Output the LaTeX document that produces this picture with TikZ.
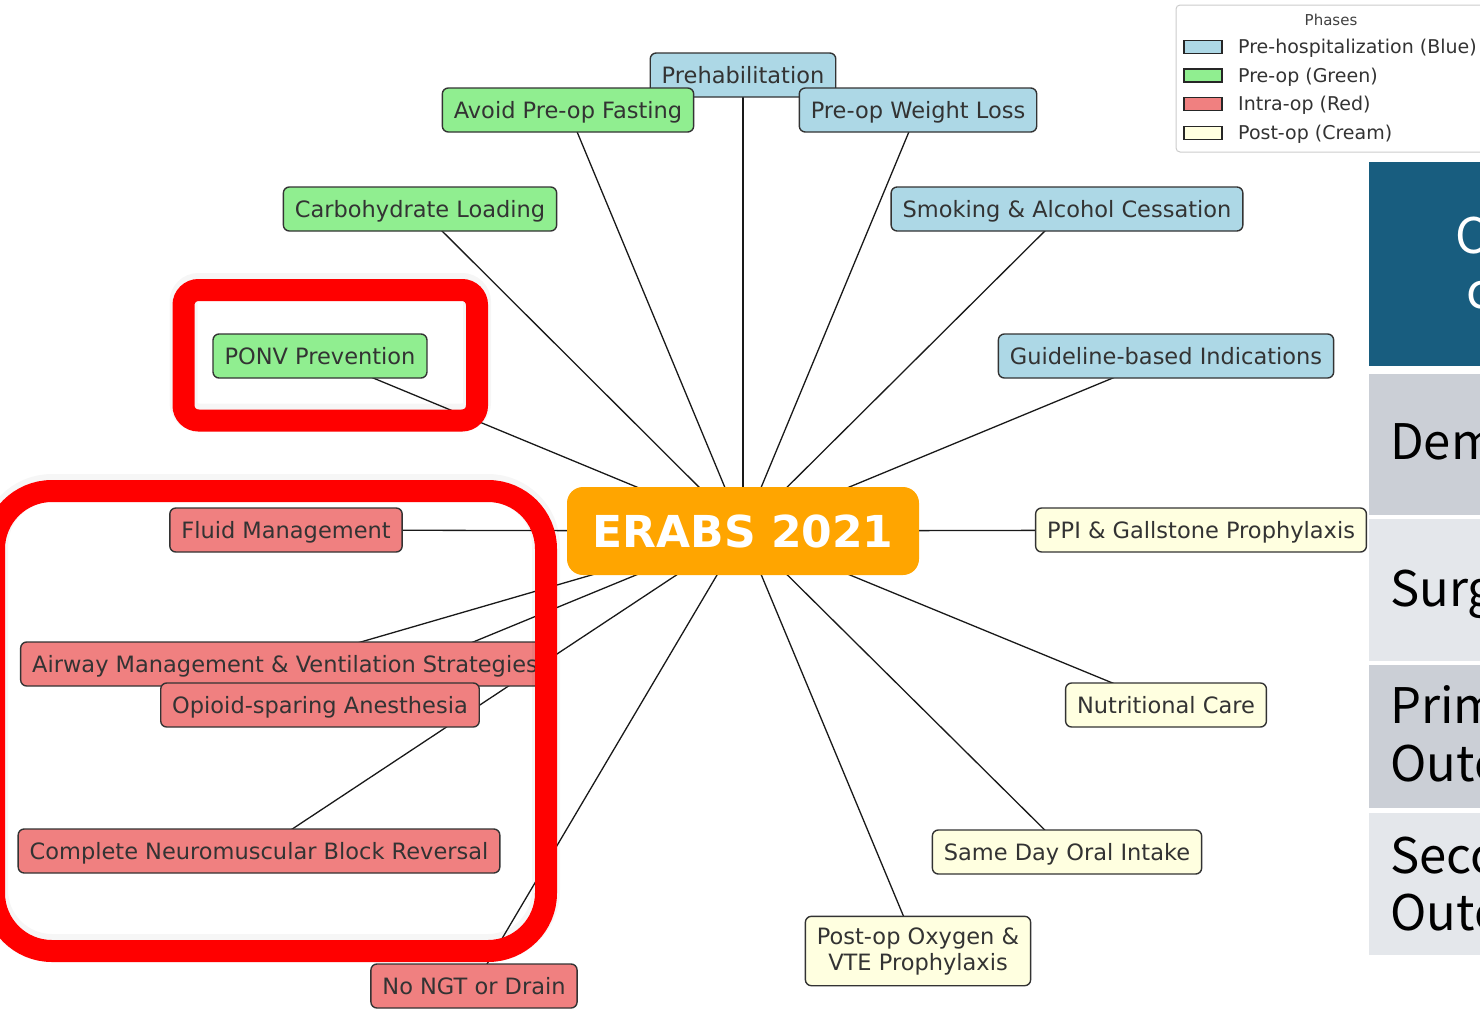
\documentclass[tikz,border=0pt]{standalone}
\usepackage{fontspec}
\setmainfont{DejaVu Sans}
\newfontfamily\tblfont{Noto Sans CJK JP}
\usetikzlibrary{backgrounds}
\definecolor{phblue}{HTML}{ADD8E6}
\definecolor{phgreen}{HTML}{90EE90}
\definecolor{phred}{HTML}{F08080}
\definecolor{phcream}{HTML}{FFFFE0}
\definecolor{hub}{HTML}{FFA500}
\definecolor{hilite}{HTML}{FF0000}
\definecolor{tblhead}{HTML}{185D7F}
\definecolor{tbldark}{HTML}{CBCFD6}
\definecolor{tbllight}{HTML}{E4E7EB}
\definecolor{nodetext}{HTML}{333333}
\tikzset{
  itembase/.style={draw=black!80, line width=1.4pt, rounded corners=6pt,
    inner xsep=11.5pt, inner ysep=11pt,
    text=nodetext, font=\fontsize{22.5}{26}\selectfont, align=center},
  item/.style={itembase, text height=19pt, text depth=3pt},
  hubnode/.style={fill=hub, rounded corners=16pt, minimum width=352pt,
    minimum height=88pt, text=white, font=\bfseries\fontsize{44}{50}\selectfont},
  edge/.style={draw=black!90, line width=1.3pt},
  hlbox/.style={draw=hilite, line width=22pt},
  hlshadow/.style={draw=black, opacity=0.035, line width=28pt},
  patch/.style={draw=black!85, line width=1.3pt},
  lgtext/.style={anchor=west, inner sep=0pt, text=nodetext, font=\fontsize{19}{22}\selectfont},
  tbltext/.style={anchor=base west, inner sep=0pt, text=black, font=\tblfont\fontsize{49}{58}\selectfont},
}
\begin{document}
\begin{tikzpicture}[x=1pt,y=-1pt]
\useasboundingbox (0,0) rectangle (1480,1009);

% hub
\node[hubnode] (c) at (743,531) {ERABS 2021};

% phase nodes
\node[item, fill=phblue] (prehab) at (743,75) {Prehabilitation};
\node[item, fill=phgreen] (fasting) at (568,110) {Avoid Pre-op Fasting};
\node[item, fill=phblue] (wloss) at (918,110) {Pre-op Weight Loss};
\node[item, fill=phgreen] (carb) at (420,209) {Carbohydrate Loading};
\node[item, fill=phblue] (smoke) at (1067,209) {Smoking \& Alcohol Cessation};
\node[item, fill=phgreen] (ponv) at (320,356) {PONV Prevention};
\node[item, fill=phblue] (guide) at (1166,356) {Guideline-based Indications};
\node[item, fill=phred] (fluid) at (286,530) {Fluid Management};
\node[item, fill=phcream] (ppi) at (1201,530) {PPI \& Gallstone Prophylaxis};
\node[item, fill=phred] (airway) at (285,664) {Airway Management \& Ventilation Strategies};
\node[item, fill=phred] (opioid) at (320,705) {Opioid-sparing Anesthesia};
\node[item, fill=phcream] (nutri) at (1166,705) {Nutritional Care};
\node[item, fill=phred] (nmb) at (259,851) {Complete Neuromuscular Block Reversal};
\node[item, fill=phcream] (sameday) at (1067,852) {Same Day Oral Intake};
\node[itembase, fill=phcream] (postop) at (918,951) {Post-op Oxygen \&\\VTE Prophylaxis};
\node[item, fill=phred] (nongt) at (474,986) {No NGT or Drain};

% connectors behind the nodes
\begin{pgfonlayer}{background}
\foreach \n in {prehab,fasting,wloss,carb,smoke,ponv,guide,fluid,ppi,airway,opioid,nutri,nmb,sameday,postop,nongt}
  \draw[edge] (c.center) -- (\n.center);
\end{pgfonlayer}

% highlight boxes
\draw[hlshadow, rounded corners=58pt] ([yshift=3pt]-6,491) rectangle ([yshift=3pt]546,951);
\draw[hlbox, rounded corners=58pt] (-6,491) rectangle (546,951);
\draw[hlshadow, rounded corners=15pt] ([yshift=3pt]183.5,290) rectangle ([yshift=3pt]477,420.5);
\draw[hlbox, rounded corners=15pt] (183.5,290) rectangle (477,420.5);

% legend
\draw[draw=black!20, fill=white, rounded corners=4pt, line width=1pt] (1176,5) rectangle (1530,152);
\node[inner sep=0pt, text=black!75, font=\fontsize{15}{18}\selectfont] (lgtitle) at (1331,20) {Phases};
\draw[patch, fill=phblue] (1184,40.5) rectangle (1222,53.5);
\node[lgtext] (lg1) at (1238,48.5) {Pre-hospitalization (Blue)};
\draw[patch, fill=phgreen] (1184,69) rectangle (1222,82);
\node[lgtext] (lg2) at (1238,77) {Pre-op (Green)};
\draw[patch, fill=phred] (1184,97.5) rectangle (1222,110.5);
\node[lgtext] (lg3) at (1238,105.5) {Intra-op (Red)};
\draw[patch, fill=phcream] (1184,126.5) rectangle (1222,139.5);
\node[lgtext] (lg4) at (1238,134.5) {Post-op (Cream)};

% table at right
\fill[tblhead] (1369,162) rectangle (1490,366);
\fill[tbldark] (1369,374) rectangle (1490,515);
\fill[tbllight] (1369,519) rectangle (1490,661);
\fill[tbldark] (1369,665) rectangle (1490,808);
\fill[tbllight] (1369,813) rectangle (1490,955);
\node[tbltext, text=white] (th1) at (1455,253) {C};
\node[tbltext, text=white] (th2) at (1466,308) {c};
\node[tbltext] (r1) at (1390,459) {Dem};
\node[tbltext] (r2) at (1390,606) {Surg};
\node[tbltext] (r3a) at (1390,723) {Prim};
\node[tbltext] (r3b) at (1390,781) {Outc};
\node[tbltext] (r4a) at (1390,873) {Seco};
\node[tbltext] (r4b) at (1390,930) {Outc};
\end{tikzpicture}
\end{document}
